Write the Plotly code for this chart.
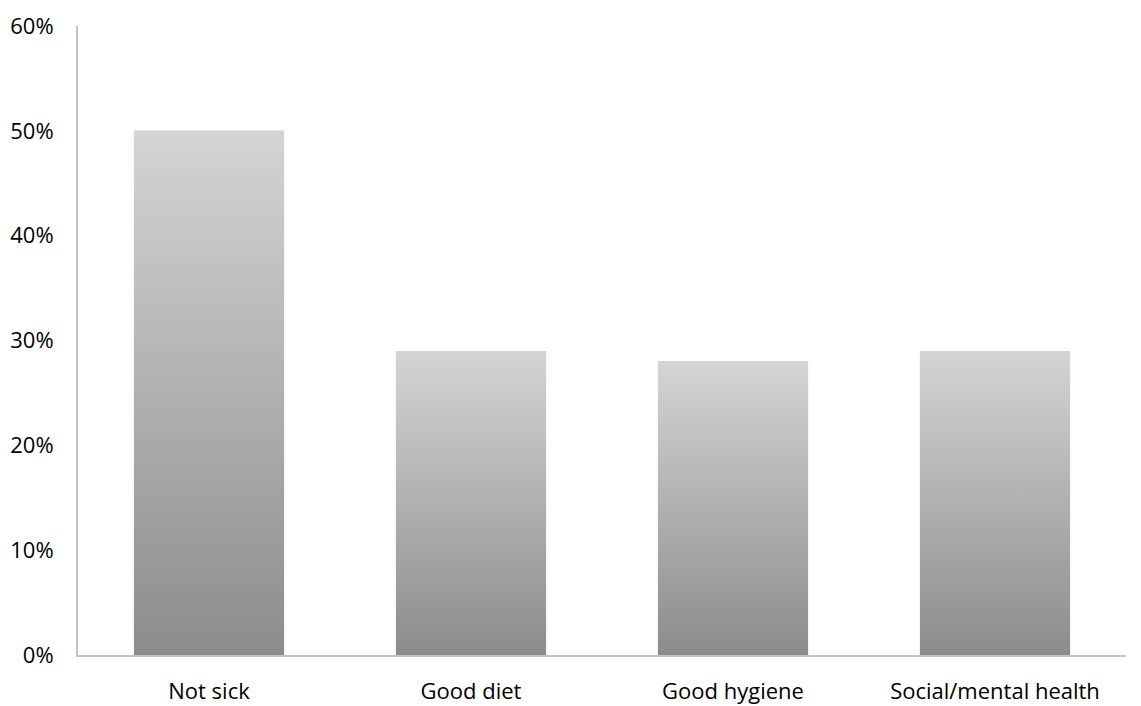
import plotly.graph_objects as go

categories = ["Not sick", "Good diet", "Good hygiene", "Social/mental health"]
values = [0.50, 0.29, 0.28, 0.29]
y_ticks = [0, 0.1, 0.2, 0.3, 0.4, 0.5, 0.6]
y_tick_labels = ["0%", "10%", "20%", "30%", "40%", "50%", "60%"]

BAR_W = 0.573
TOP_C = "#d3d4d6"
BOT_C = "#8b8c8e"
FONT = "Open Sans"
FS = 22

positions = list(range(len(categories)))

fig = go.Figure()
fig.add_trace(go.Bar(x=positions, y=values, width=BAR_W,
                     marker=dict(color="#aeafb1", line=dict(width=0)),
                     hoverinfo="skip", showlegend=False))

for pos, val, cat in zip(positions, values, categories):
    xs = [pos - BAR_W / 2, pos + BAR_W / 2, pos + BAR_W / 2, pos - BAR_W / 2, pos - BAR_W / 2]
    ys = [0, 0, val, val, 0]
    fig.add_trace(go.Scatter(
        x=xs, y=ys, mode="lines", fill="toself",
        line=dict(width=0, color="rgba(0,0,0,0)"),
        fillgradient=dict(type="vertical", colorscale=[[0, BOT_C], [1, TOP_C]]),
        name=cat, showlegend=False, hoverinfo="skip"))

fig.update_layout(
    width=1141, height=706,
    margin=dict(l=78, r=15, t=26, b=51),
    paper_bgcolor="white", plot_bgcolor="white",
    font=dict(family=FONT, size=FS, color="#000000"),
    showlegend=False,
)
fig.update_xaxes(
    range=[-0.5, len(categories) - 0.5],
    tickvals=positions, ticktext=categories,
    showgrid=False, zeroline=False,
    showline=True, linecolor="#c4c4c4", linewidth=2,
    ticks="", ticklabelstandoff=16, automargin=False,
    tickfont=dict(family=FONT, size=FS, color="#000000"),
)
fig.update_yaxes(
    range=[0, 0.6],
    tickvals=y_ticks, ticktext=y_tick_labels,
    showgrid=False, zeroline=False,
    showline=True, linecolor="#c4c4c4", linewidth=2,
    ticks="", ticklabelstandoff=18, automargin=False,
    tickfont=dict(family=FONT, size=FS, color="#000000"),
)

fig.write_html("out.html")
